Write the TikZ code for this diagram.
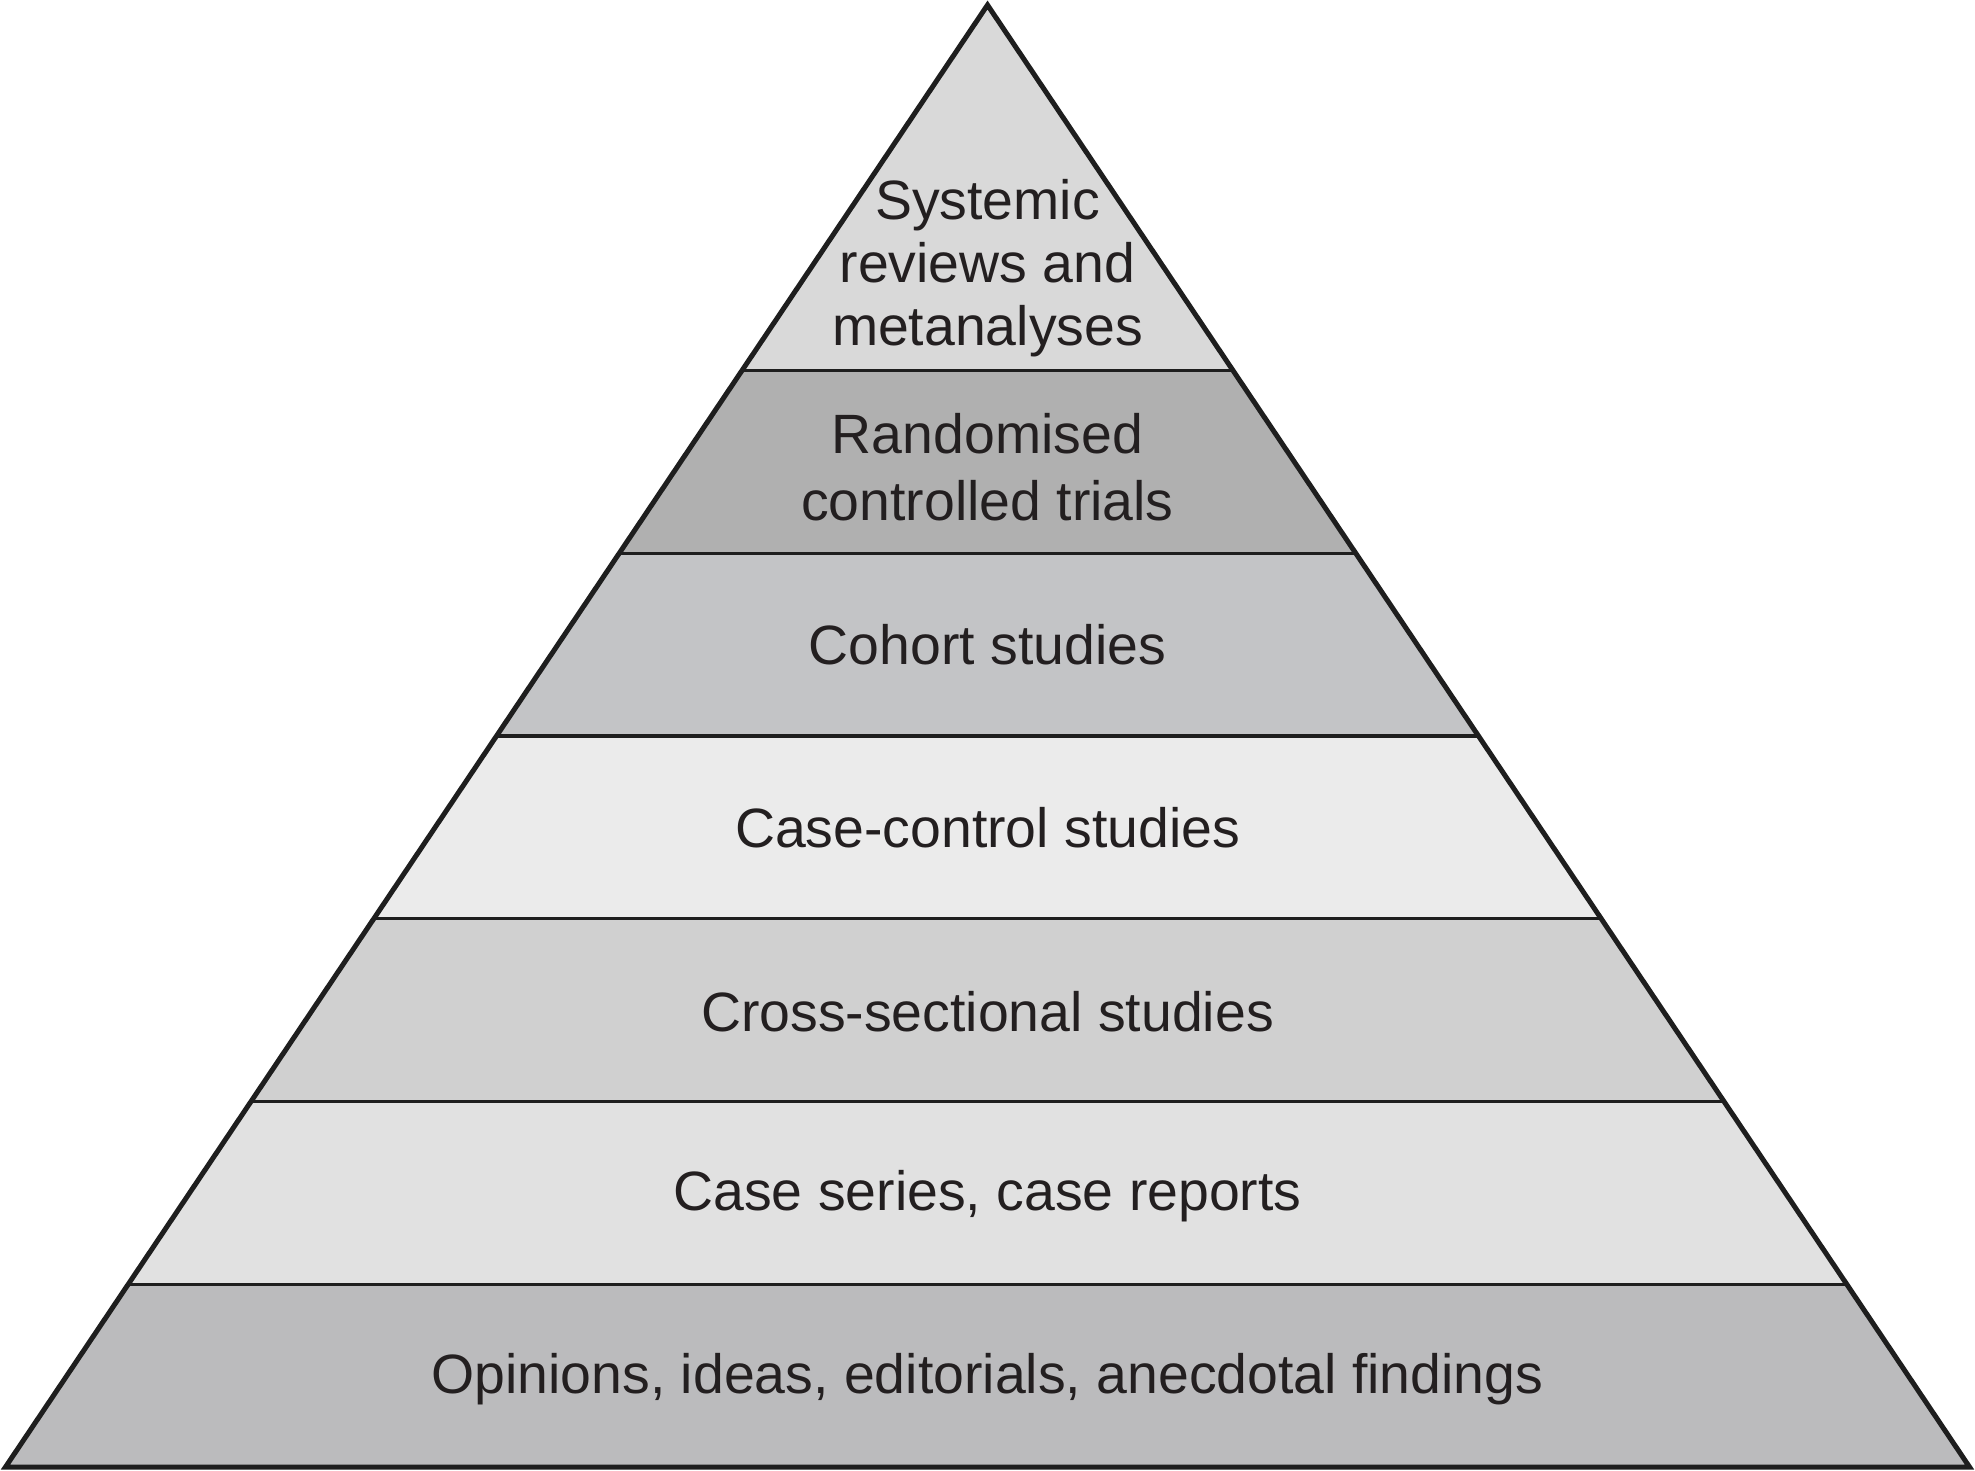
\documentclass[tikz,border=0pt]{standalone}
\usepackage{fontspec}
\setmainfont{Liberation Sans}
\definecolor{linec}{HTML}{1E1E1E}
\definecolor{txt}{HTML}{231F20}
\definecolor{cA}{HTML}{D9D9D9}
\definecolor{cB}{HTML}{B0B0B0}
\definecolor{cC}{HTML}{C3C4C6}
\definecolor{cD}{HTML}{EBEBEB}
\definecolor{cE}{HTML}{D0D0D0}
\definecolor{cF}{HTML}{E1E1E1}
\definecolor{cG}{HTML}{BBBBBD}
\begin{document}
\begin{tikzpicture}[x=0.5pt,y=-0.5pt,
  divider/.style={line width=1.6pt, draw=linec},
  outline/.style={line width=2.5pt, draw=linec, line join=miter},
  lbl/.style={font=\fontsize{27.7}{31.5}\selectfont, text=txt, align=center, inner sep=0pt}]
\useasboundingbox (0,0) rectangle (1975,1471);
% boundary points
\coordinate (A)  at (987.5,5);
\coordinate (L0) at (5.5,1467);    \coordinate (R0) at (1969.5,1467);
\coordinate (L1) at (128.25,1284.25); \coordinate (R1) at (1846.75,1284.25);
\coordinate (L2) at (251,1101.5);  \coordinate (R2) at (1724,1101.5);
\coordinate (L3) at (373.75,918.75); \coordinate (R3) at (1601.25,918.75);
\coordinate (L4) at (496.5,736);   \coordinate (R4) at (1478.5,736);
\coordinate (L5) at (619.25,553.25); \coordinate (R5) at (1355.75,553.25);
\coordinate (L6) at (742,370.5);   \coordinate (R6) at (1233,370.5);
% bands
\fill[cG] (L0) -- (R0) -- (R1) -- (L1) -- cycle;
\fill[cF] (L1) -- (R1) -- (R2) -- (L2) -- cycle;
\fill[cE] (L2) -- (R2) -- (R3) -- (L3) -- cycle;
\fill[cD] (L3) -- (R3) -- (R4) -- (L4) -- cycle;
\fill[cC] (L4) -- (R4) -- (R5) -- (L5) -- cycle;
\fill[cB] (L5) -- (R5) -- (R6) -- (L6) -- cycle;
\fill[cA] (L6) -- (R6) -- (A) -- cycle;
% dividers
\foreach \i in {1,...,6} {\draw[divider] (L\i) -- (R\i);}
% outline
\draw[outline] (A) -- (R0) -- (L0) -- cycle;
% labels
\node[lbl] (t1) at (987.5,268) {Systemic\\reviews and\\metanalyses};
\node[lbl, font=\fontsize{27.7}{33.5}\selectfont] (t2) at (987.5,467) {Randomised\\controlled trials};
\node[lbl] (t3) at (987.5,645) {Cohort studies};
\node[lbl] (t4) at (987.5,828) {Case-control studies};
\node[lbl] (t5) at (987.5,1012) {Cross-sectional studies};
\node[lbl] (t6) at (987.5,1196) {Case series, case reports};
\node[lbl] (t7) at (987.5,1379) {Opinions, ideas, editorials, anecdotal findings};
\end{tikzpicture}
\end{document}
